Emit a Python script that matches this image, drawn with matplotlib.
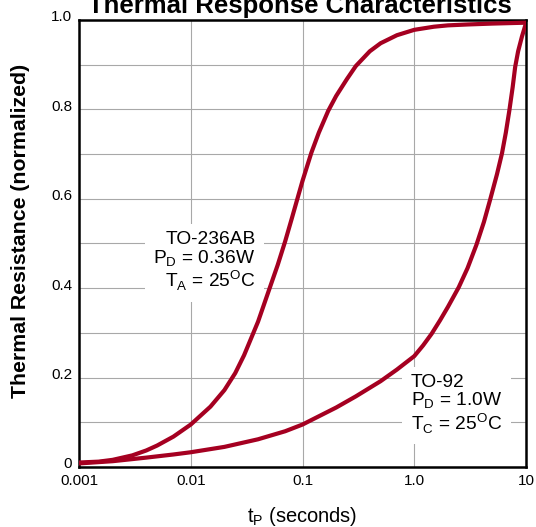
import numpy as np
import matplotlib
matplotlib.use('Agg')
import matplotlib.pyplot as plt
import matplotlib.transforms as mtransforms

plt.rcParams['font.family'] = ['Liberation Sans', 'DejaVu Sans']
plt.rcParams['mathtext.fontset'] = 'custom'
plt.rcParams['mathtext.rm'] = 'Liberation Sans'

# TO-236AB curve (fast)
fast_t = [0.001, 0.0015, 0.002, 0.003, 0.004, 0.005, 0.007, 0.01, 0.015, 0.02,
          0.025, 0.03, 0.04, 0.05, 0.06, 0.07, 0.08, 0.09, 0.1, 0.12, 0.14,
          0.17, 0.2, 0.25, 0.3, 0.4, 0.5, 0.7, 1.0, 1.5, 2.0, 3.0, 5.0, 10.0]
fast_r = [0.010, 0.012, 0.016, 0.026, 0.037, 0.048, 0.068, 0.095, 0.135, 0.172,
          0.210, 0.250, 0.325, 0.395, 0.452, 0.505, 0.555, 0.600, 0.640, 0.703, 0.748,
          0.797, 0.830, 0.868, 0.897, 0.930, 0.948, 0.966, 0.978, 0.985, 0.988, 0.990, 0.992, 0.994]

# TO-92 curve (slow)
slow_t = [0.001, 0.002, 0.004, 0.007, 0.01, 0.02, 0.04, 0.07, 0.1, 0.2,
          0.3, 0.5, 0.7, 1.0, 1.2, 1.43, 1.7, 2.0, 2.5, 3.0,
          3.6, 4.2, 4.8, 5.5, 6.1, 6.6, 7.1, 7.6, 8.0, 8.5, 9.2, 10.0]
slow_r = [0.008, 0.013, 0.021, 0.028, 0.033, 0.045, 0.062, 0.080, 0.095, 0.133,
          0.158, 0.192, 0.218, 0.248, 0.272, 0.298, 0.328, 0.358, 0.402, 0.445,
          0.497, 0.548, 0.600, 0.655, 0.702, 0.748, 0.798, 0.850, 0.895, 0.930, 0.963, 0.993]

x_ticks = [0.001, 0.01, 0.1, 1.0, 10]
x_labels = ['0.001', '0.01', '0.1', '1.0', '10']
y_ticks = [0, 0.2, 0.4, 0.6, 0.8, 1.0]
y_labels = ['0', '0.2', '0.4', '0.6', '0.8', '1.0']

red = '#a50021'

fig = plt.figure(figsize=(5.36, 5.27), dpi=100)
ax = fig.add_axes([79 / 536, 1 - 467 / 527, 447 / 536, 447 / 527])

ax.plot(fast_t, fast_r, color=red, lw=3, solid_capstyle='round', solid_joinstyle='round', zorder=3)
ax.plot(slow_t, slow_r, color=red, lw=3, solid_capstyle='round', solid_joinstyle='round', zorder=3)

ax.set_xscale('log')
ax.set_xlim(0.001, 10)
ax.set_ylim(0, 1.0)
ax.set_xticks(x_ticks)
ax.set_xticklabels(x_labels)
ax.set_yticks(y_ticks)
ax.set_yticklabels(y_labels)
ax.set_yticks(np.arange(0.1, 1.0, 0.2), minor=True)
ax.xaxis.set_minor_locator(matplotlib.ticker.NullLocator())
ax.tick_params(which='both', length=0, labelsize=11, pad=5)
ax.tick_params(axis='y', pad=5)
# labels on the y axis sit a little high in the original
shift = mtransforms.ScaledTranslation(0, 3 / 72, fig.dpi_scale_trans)
for lab in ax.get_yticklabels():
    lab.set_transform(lab.get_transform() + shift)
ax.grid(True, which='both', color='#a8a8a8', lw=0.8)
ax.set_axisbelow(True)
for s in ax.spines.values():
    s.set_linewidth(1.8)
    s.set_color('black')

fig.text(21 / 536, 1 - 231 / 527, 'Thermal Resistance (normalized)', fontsize=15.3,
         fontweight='bold', rotation=90, ha='center', va='center')
ax.set_xlabel(r't$_\mathregular{P}$ (seconds)', fontsize=14.5, labelpad=12)
fig.text(300 / 536, 1 - 13 / 527, 'Thermal Response Characteristics', fontsize=18.5,
         fontweight='bold', ha='center', va='baseline')

box = dict(facecolor='white', edgecolor='none', pad=6)
ax.text(0.038, 0.458, 'TO-236AB\n' + r'P$_\mathregular{D}$ = 0.36W' + '\n' +
        r'T$_\mathregular{A}$ = 25$^\mathregular{O}$C',
        fontsize=13.8, ha='right', va='center', linespacing=1.03, bbox=box, zorder=2)
ax.text(0.93, 0.139, 'TO-92\n' + r'P$_\mathregular{D}$ = 1.0W' + '\n' +
        r'T$_\mathregular{C}$ = 25$^\mathregular{O}$C',
        fontsize=13.8, ha='left', va='center', linespacing=1.03, bbox=box, zorder=2)

fig.savefig('out.png', dpi=100)
